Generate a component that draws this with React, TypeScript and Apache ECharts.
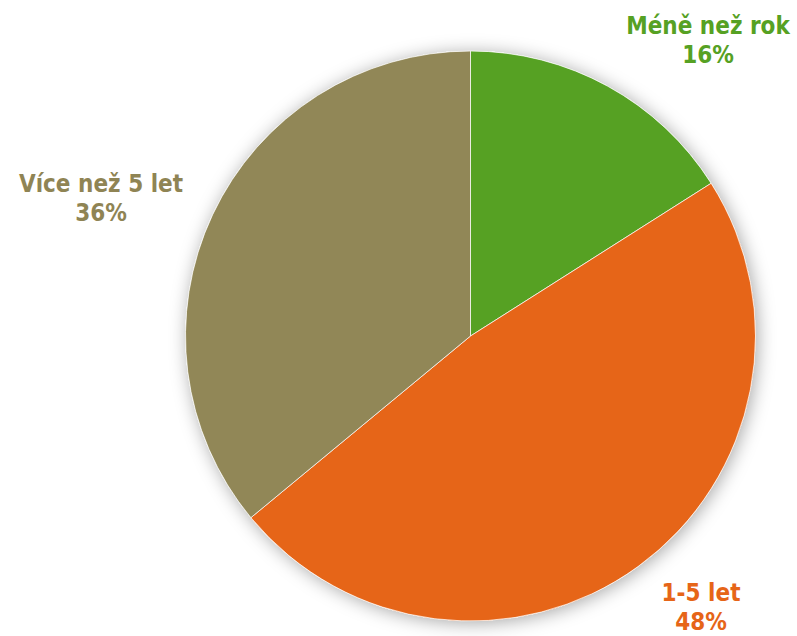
import React, { useEffect, useRef } from "react";
import * as echarts from "echarts";

const categories = ["Méně než rok", "1-5 let", "Více než 5 let"];
const values = [16, 48, 36];
const colors = ["#56a123", "#e66518", "#918757"];
const labelColors = ["#56a123", "#e66518", "#8f8454"];
// label centres (layout only)
const labelPos = [
  [708, 40],
  [701, 607],
  [101, 198],
];

export default function App() {
  const ref = useRef<HTMLDivElement>(null);
  useEffect(() => {
    const chart = echarts.init(ref.current!, undefined, { renderer: "svg" });
    const font = "'DejaVu Sans Condensed', 'DejaVu Sans', sans-serif";
    chart.setOption({
      animation: false,
      backgroundColor: "#ffffff",
      series: [
        {
          type: "pie",
          silent: true,
          z: 1,
          center: [470.5, 336],
          radius: 285,
          data: [{ value: 1, name: "bg" }],
          label: { show: false },
          labelLine: { show: false },
          itemStyle: {
            color: "#ffffff",
            shadowBlur: 18,
            shadowColor: "rgba(0,0,0,0.35)",
            shadowOffsetX: 2,
            shadowOffsetY: 2,
          },
        },
        {
          type: "pie",
          z: 2,
          center: [470.5, 336],
          radius: 285,
          startAngle: 90,
          clockwise: true,
          data: categories.map((c, i) => ({
            name: c,
            value: values[i],
            itemStyle: { color: colors[i] },
            label: { color: labelColors[i] },
          })),
          itemStyle: { borderColor: "rgba(255,255,255,0.7)", borderWidth: 1 },
          label: {
            show: true,
            position: "outside",
            formatter: "{b}\n{d}%",
            fontFamily: font,
            fontWeight: "bold",
            fontSize: 24,
            lineHeight: 29,
            align: "center",
            overflow: "none",
            width: 250,
          },
          labelLine: { show: false },
          labelLayout: (p: any) => ({
            x: labelPos[p.dataIndex][0],
            y: labelPos[p.dataIndex][1],
            align: "center",
            verticalAlign: "middle",
            width: 250,
          }),
        },
      ],
    });
    return () => chart.dispose();
  }, []);
  return (
    <div
      ref={ref}
      style={{ position: "fixed", left: 0, top: 0, width: 797, height: 636 }}
    />
  );
}
